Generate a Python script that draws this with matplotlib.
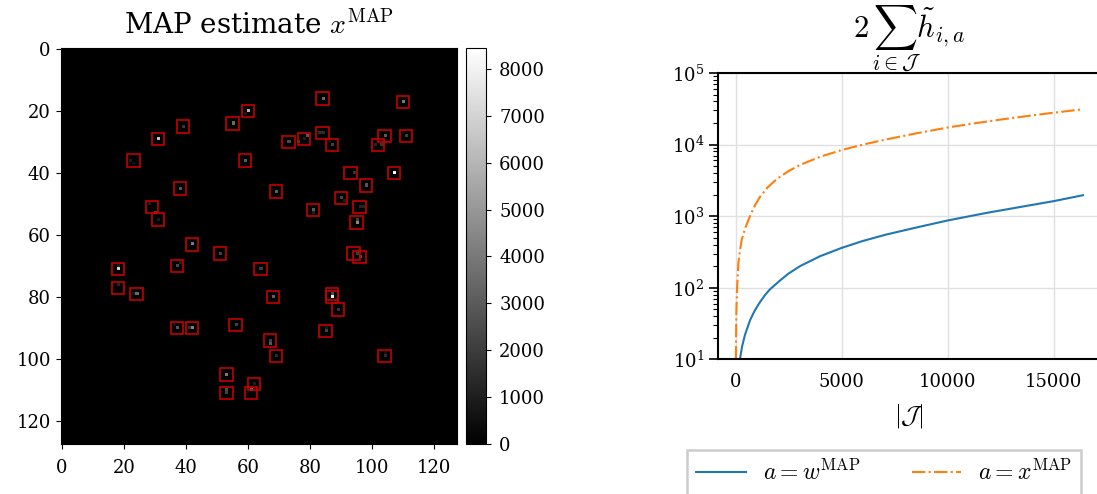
import numpy as np
import matplotlib
matplotlib.use("Agg")
import matplotlib.pyplot as plt
from matplotlib.patches import Rectangle

plt.rcParams['font.family'] = 'serif'
plt.rcParams['mathtext.fontset'] = 'cm'

# non-zero pixels of the MAP image: column, row, intensity
spot_cols = [60, 59, 55, 39, 31, 22, 23, 59, 84, 110, 73, 76, 79, 78, 83, 84,
             87, 86, 104, 111, 110, 101, 103, 94, 107, 98, 38, 28, 30, 31, 42,
             51, 18, 18, 37, 38, 64, 18, 24, 23, 69, 90, 91, 96, 97, 81, 81,
             95, 95, 95, 96, 68, 87, 87, 89, 37, 36, 42, 41, 56, 53, 53, 53,
             62, 61, 85, 85, 67, 67, 69, 104, 104]
spot_rows = [20, 21, 24, 25, 29, 36, 37, 36, 16, 17, 30, 30, 28, 29, 27, 27,
             31, 30, 28, 28, 27, 31, 31, 40, 40, 44, 45, 50, 53, 55, 63,
             66, 71, 70, 70, 69, 71, 76, 79, 79, 46, 48, 49, 51, 51, 52, 53,
             56, 55, 66, 67, 80, 79, 80, 84, 90, 89, 90, 90, 89, 105, 110, 111,
             108, 110, 91, 90, 94, 95, 99, 99, 98]
spot_vals = [6000, 800, 3500, 1800, 6500, 1000, 500, 3000, 3500, 4000, 2500,
             2000, 3000, 1000, 1500, 1500, 2200, 600, 3000, 2200, 500, 1200,
             1800, 1600, 8450, 2800, 2800, 1000, 2500, 900, 4000, 2200, 7000,
             1000, 2500, 1000, 2000, 1200, 3500, 800, 3200, 2300, 1000, 1200,
             1200, 3000, 1000, 4500, 2000, 2000, 2800, 3200, 2500, 8000, 1800,
             2800, 600, 4200, 1500, 2200, 4000, 2500, 2200, 1000, 3500, 2200,
             800, 2200, 3000, 1500, 1500, 600]

# detected sources (centres of the marker boxes)
box_cols = [60, 55, 39, 31, 23, 59, 84, 110, 73, 78, 84, 87, 104, 111, 102,
            93, 107, 98, 38, 29, 31, 42, 51, 18, 37, 64, 18, 24, 69, 90, 96,
            81, 95, 94, 96, 68, 87, 87, 89, 37, 42, 56, 53, 53, 62, 61, 85,
            67, 69, 104]
box_rows = [20, 24, 25, 29, 36, 36, 16, 17, 30, 29, 27, 31, 28, 28, 31,
            40, 40, 44, 45, 51, 55, 63, 66, 71, 70, 71, 77, 79, 46, 48, 51,
            52, 56, 66, 67, 80, 79, 80, 84, 90, 90, 89, 105, 111, 108, 111, 91,
            94, 99, 99]

# 2 * sum of h over the index set, against its size
n_w = [200, 300, 440, 675, 900, 1146, 1400, 1618, 2090, 2500, 3033, 3976,
       5000, 6000, 7123, 8693, 10000, 11840, 13410, 15000, 16384]
h_w = [10, 15, 22, 35, 48, 63, 80, 95, 126, 158, 200, 275,
       360, 450, 555, 712, 870, 1110, 1340, 1620, 1960]
n_x = [10, 30, 60, 126, 200, 283, 450, 676, 900, 1146, 1500, 1934, 2500,
       3033, 4000, 5000, 6000, 7123, 8500, 10000, 11300, 12623, 14000,
       15000, 16384]
h_x = [10, 45, 90, 219, 330, 462, 680, 1000, 1400, 1860, 2510, 3290, 4270,
       5190, 6780, 8380, 9980, 11830, 14300, 17300, 19860, 22590, 25590,
       27860, 31120]

fig = plt.figure(figsize=(10.97, 4.94), dpi=100)

# left: MAP image with boxes around the sources
ax_img = fig.add_axes([0.0552, 0.1006, 0.3617, 0.8032])
img = np.zeros((128, 128))
img[spot_rows, spot_cols] = spot_vals
im = ax_img.imshow(img, cmap='gray', vmin=0, vmax=img.max(),
                   interpolation='nearest')
for c, r in zip(box_cols, box_rows):
    ax_img.add_patch(Rectangle((c - 2, r - 2), 4, 4, fill=False,
                               ec='#c40000', lw=1.2))
ax_img.set_xticks(range(0, 121, 20))
ax_img.set_yticks(range(0, 121, 20))
ax_img.tick_params(labelsize=13)
ax_img.tick_params(axis='x', pad=7)
ax_img.set_title(r'MAP estimate $x^{\mathrm{MAP}}$', fontsize=20, pad=10)

cax = fig.add_axes([466 / 1097, 0.1006, 20 / 1097, 0.8032])
cb = fig.colorbar(im, cax=cax)
cb.set_ticks(range(0, 8001, 1000))
cb.ax.tick_params(labelsize=13, pad=6)

# right: growth of the summed curvature
ax = fig.add_axes([0.6548, 0.2727, 0.3483, 0.5796])
ax.plot(n_w, h_w, color='#1f77b4', lw=1.5, label=r'$a = w^{\mathrm{MAP}}$')
ax.plot(n_x, h_x, color='#ff7f0e', ls='-.', lw=1.5,
        label=r'$a = x^{\mathrm{MAP}}$')
ax.set_yscale('log')
ax.set_ylim(10, 1e5)
ax.set_xlim(-819, 17203)
ax.set_xticks([0, 5000, 10000, 15000])
ax.grid(True, color='#e0e0e0', lw=1)
ax.set_axisbelow(True)
for s in ax.spines.values():
    s.set_linewidth(1.5)
ax.tick_params(axis='x', length=0, labelsize=13, pad=10)
ax.tick_params(axis='y', which='major', length=6.5, width=1.2, labelsize=13)
ax.tick_params(axis='y', which='minor', length=3.5, width=0.8)
ax.set_title(r'$2\,\sum_{i\in\mathcal{J}}\tilde{h}_{i,a}$', fontsize=22, pad=3)
ax.set_xlabel(r'$|\mathcal{J}|$', fontsize=18, labelpad=8)

h, l = ax.get_legend_handles_labels()
leg = fig.legend(h, l, loc='upper center', bbox_to_anchor=(0.806, 0.089),
                 ncol=2, fontsize=17, handlelength=2.1, handletextpad=0.7,
                 columnspacing=2.2, borderaxespad=0, fancybox=False,
                 edgecolor='#cccccc', framealpha=1)
leg.get_frame().set_linewidth(1.8)

fig.savefig('out.png', dpi=100)
